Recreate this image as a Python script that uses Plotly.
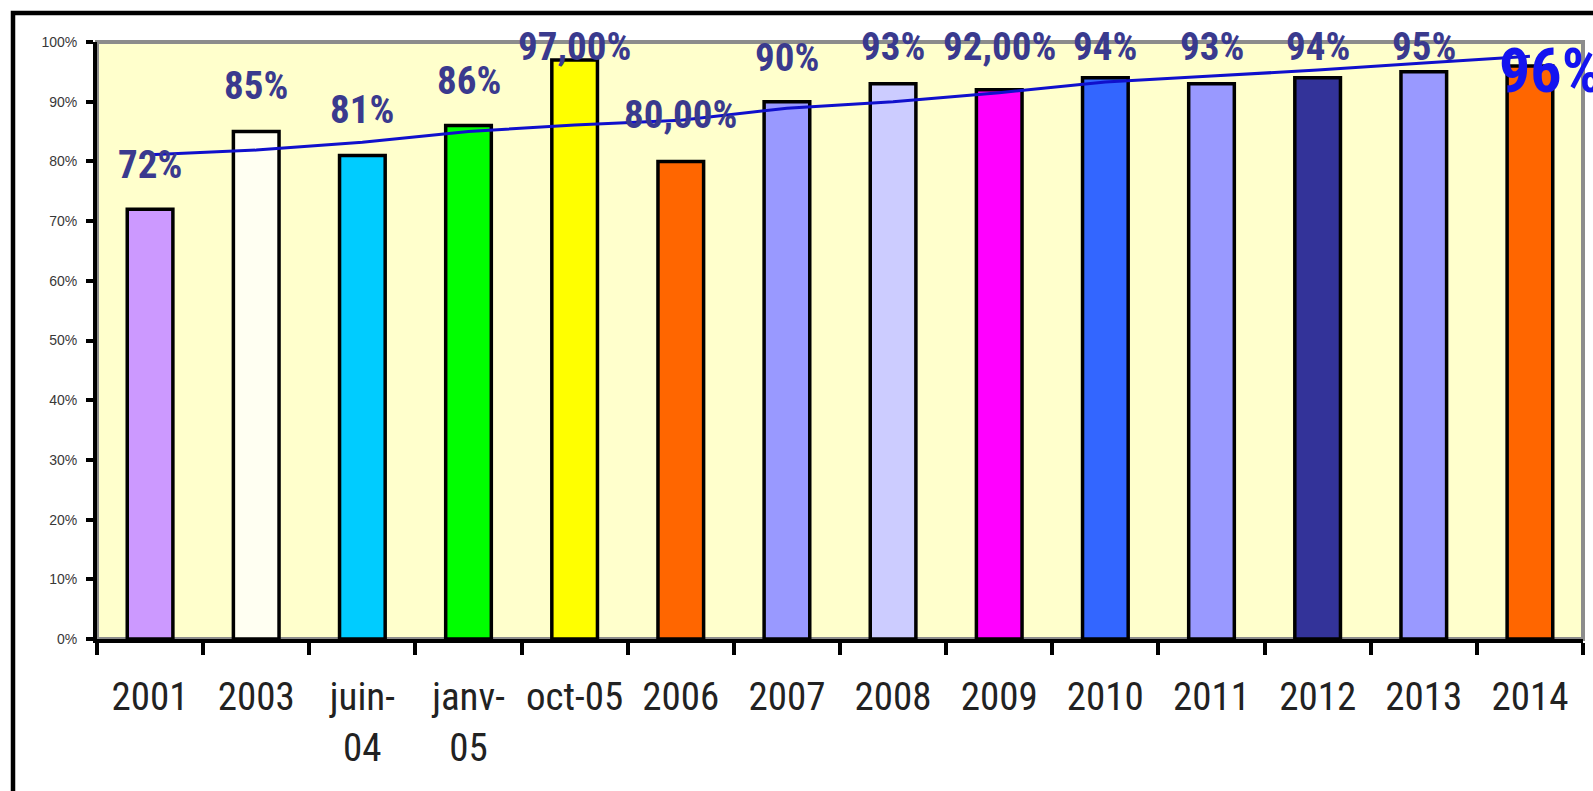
import plotly.graph_objects as go

categories = ["2001", "2003", "juin-04", "janv-05", "oct-05", "2006", "2007",
              "2008", "2009", "2010", "2011", "2012", "2013", "2014"]
tick_labels = ["2001", "2003", "juin-<br>04", "janv-<br>05", "oct-05", "2006", "2007",
               "2008", "2009", "2010", "2011", "2012", "2013", "2014"]
values = [72, 85, 81, 86, 97, 80, 90, 93, 92, 94, 93, 94, 95, 96]
value_labels = ["72%", "85%", "81%", "86%", "97,00%", "80,00%", "90%",
                "93%", "92,00%", "94%", "93%", "94%", "95%", "96%"]
trend = [81.1, 81.9, 83.2, 85.0, 86.1, 86.9, 88.9, 90.0, 91.5, 93.3, 94.3, 95.3, 96.5, 97.6]

bar_colors = ["#CC99FF", "#FFFFF2", "#00CCFF", "#00FF00", "#FFFF00", "#FF6600", "#9999FF",
              "#CCCCFF", "#FF00FF", "#3366FF", "#9999FF", "#333399", "#9999FF", "#FF6600"]
# label placement (y of label centre, in axis units) - layout only
label_y = [79.4, 92.6, 88.6, 93.5, 99.2, 87.8, 97.3, 99.2, 99.2, 99.2, 99.2, 99.2, 99.2, 95.3]

NARROW = "Roboto Condensed, Liberation Sans, sans-serif"

fig = go.Figure()
fig.add_trace(go.Bar(
    x=categories, y=values, width=0.43,
    marker=dict(color=bar_colors, line=dict(color="black", width=3.5)),
    showlegend=False, hoverinfo="skip",
))
fig.add_trace(go.Scatter(
    x=categories, y=trend, mode="lines",
    line=dict(color="#1010CC", width=3),
    showlegend=False, hoverinfo="skip",
))

annotations = []
for i, (t, ly) in enumerate(zip(value_labels, label_y)):
    last = i == len(categories) - 1
    annotations.append(dict(
        x=i, y=ly, xref="x", yref="y", text="<b>%s</b>" % t, showarrow=False,
        xanchor="center", yanchor="middle", xshift=20 if last else 0,
        font=dict(family=NARROW, size=62 if last else 39,
                  color="#1414F0" if last else "#3A3A8E"),
    ))

W, H = 1593, 791
L, R, T, B = 97, 10, 42, 152
pw, ph = W - L - R, H - T - B
def px(xp):
    return (xp - L) / pw
def py(yp):
    return (H - B - yp) / ph

shapes = [
    dict(type="rect", xref="paper", yref="paper", x0=0, y0=0, x1=1, y1=1,
         fillcolor="#FFFFCC", line=dict(color="#8C8C8C", width=4), layer="below"),
    dict(type="rect", xref="paper", yref="paper", x0=px(13), y0=py(805), x1=px(1610), y1=py(13),
         fillcolor="rgba(0,0,0,0)", line=dict(color="black", width=4.5), layer="below"),
]

fig.update_layout(
    width=W, height=H,
    margin=dict(l=L, r=R, t=T, b=B),
    paper_bgcolor="white", plot_bgcolor="#FFFFCC",
    bargap=0.57,
    annotations=annotations, shapes=shapes,
    xaxis=dict(
        type="category", tickmode="array", tickvals=categories, ticktext=tick_labels,
        tickson="boundaries", ticks="outside", ticklen=12, tickwidth=3.5, tickcolor="black",
        showline=True, linecolor="black", linewidth=4, showgrid=False, zeroline=False,
        tickfont=dict(family=NARROW, size=39, color="#222222"), tickangle=0,
        ticklabelstandoff=20, range=[-0.5, 13.5],
    ),
    yaxis=dict(
        range=[0, 100], dtick=10, ticksuffix="%",
        ticks="outside", ticklen=7, tickwidth=3.5, tickcolor="black",
        showline=True, linecolor="black", linewidth=4, showgrid=False, zeroline=False,
        tickfont=dict(family="Liberation Sans, Arial, sans-serif", size=14, color="#383838"),
        ticklabelstandoff=6,
    ),
)

fig.write_html("out.html")
